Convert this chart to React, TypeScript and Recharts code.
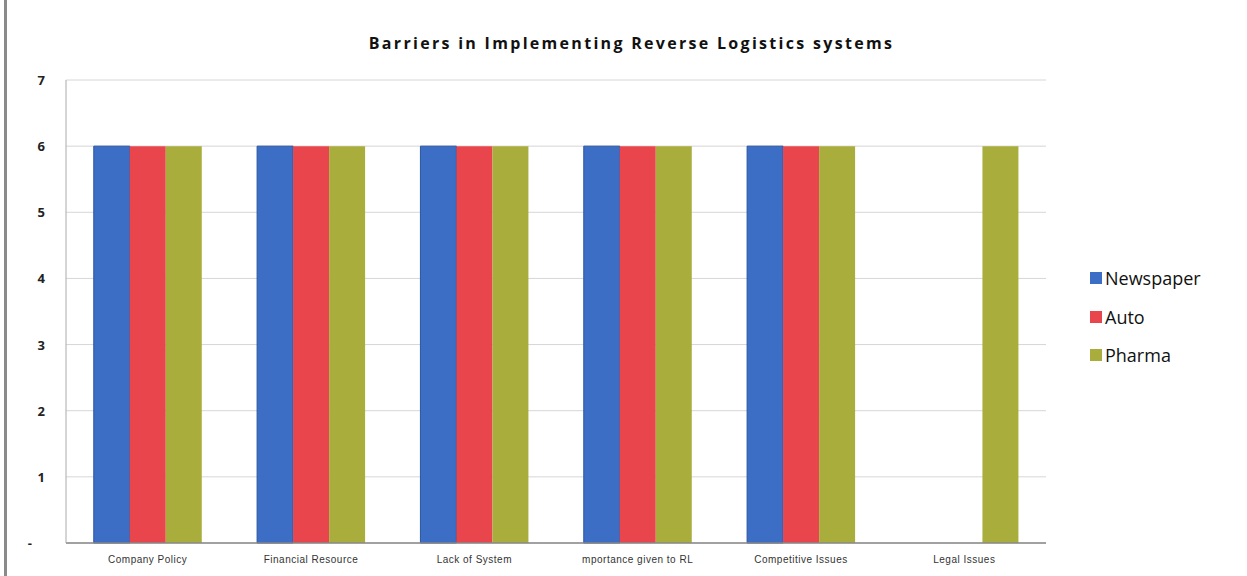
import React from 'react';
import { BarChart, Bar, XAxis, YAxis, CartesianGrid } from 'recharts';

const categories = ['Company Policy', 'Financial Resource', 'Lack of System', 'mportance given to RL', 'Competitive Issues', 'Legal Issues'];
const newspaper = [6, 6, 6, 6, 6, 0];
const auto = [6, 6, 6, 6, 6, 0];
const pharma = [6, 6, 6, 6, 6, 6];
const yTicks = [0, 1, 2, 3, 4, 5, 6, 7];
const seriesNames = ['Newspaper', 'Auto', 'Pharma'];

const data = categories.map((c, i) => ({ name: c, Newspaper: newspaper[i], Auto: auto[i], Pharma: pharma[i] }));

const COLORS: Record<string, string> = { Newspaper: '#3c6ec6', Auto: '#e8464c', Pharma: '#a8ad3c' };

const YTick = (props: any) => {
  const { y, payload } = props;
  const isZero = payload.value === 0;
  return (
    <text x={isZero ? 32 : 45} y={y} dy={5} textAnchor="end" fontFamily="Open Sans, sans-serif" fontSize={13} fontWeight={700} fill="#222">
      {isZero ? '-' : payload.value}
    </text>
  );
};

const XTick = (props: any) => {
  const { x, y, payload } = props;
  return (
    <text x={x} y={y} dy={12} textAnchor="middle" fontFamily="Liberation Sans Narrow, Liberation Sans, sans-serif" fontSize={10} letterSpacing={0.5} fill="#333">
      {payload.value}
    </text>
  );
};

export default function App() {
  return (
    <div style={{ position: 'absolute', left: 0, top: 0, width: 1247, height: 576, background: '#fff' }}>
      <div style={{ position: 'absolute', left: 4, top: 0, width: 3, height: 576, background: '#8a8a8a' }} />
      <div style={{ position: 'absolute', left: 0, width: 1247, top: 32, textAlign: 'center', fontFamily: 'Open Sans, sans-serif', fontWeight: 700, fontSize: 16, letterSpacing: 2.3, color: '#111', paddingLeft: 8 }}>
        Barriers in Implementing Reverse Logistics systems
      </div>
      <div style={{ position: 'absolute', left: 1090, top: 259, fontFamily: 'Open Sans, sans-serif', fontSize: 18, color: '#111' }}>
        {seriesNames.map((k) => (
          <div key={k} style={{ display: 'flex', alignItems: 'center', height: 38.5 }}>
            <span style={{ display: 'inline-block', width: 12, height: 12, background: COLORS[k], marginRight: 3 }} />
            <span>{k}</span>
          </div>
        ))}
      </div>
      <BarChart
        width={1247}
        height={576}
        data={data}
        margin={{ top: 80, right: 201, bottom: 3, left: 0 }}
        barGap={0}
        barCategoryGap="17%"
      >
        <CartesianGrid vertical={false} stroke="#d6d6d6" />
        <XAxis dataKey="name" height={30} tick={<XTick />} tickLine={false} axisLine={{ stroke: '#888', strokeWidth: 1.5 }} interval={0} />
        <YAxis width={66} domain={[0, 7]} ticks={yTicks} tick={<YTick />} tickLine={false} axisLine={{ stroke: '#aaa' }} />
        <Bar dataKey="Newspaper" fill={COLORS.Newspaper} stroke="#2a55a0" strokeWidth={1} isAnimationActive={false} />
        <Bar dataKey="Auto" fill={COLORS.Auto} isAnimationActive={false} />
        <Bar dataKey="Pharma" fill={COLORS.Pharma} isAnimationActive={false} />
      </BarChart>
    </div>
  );
}
